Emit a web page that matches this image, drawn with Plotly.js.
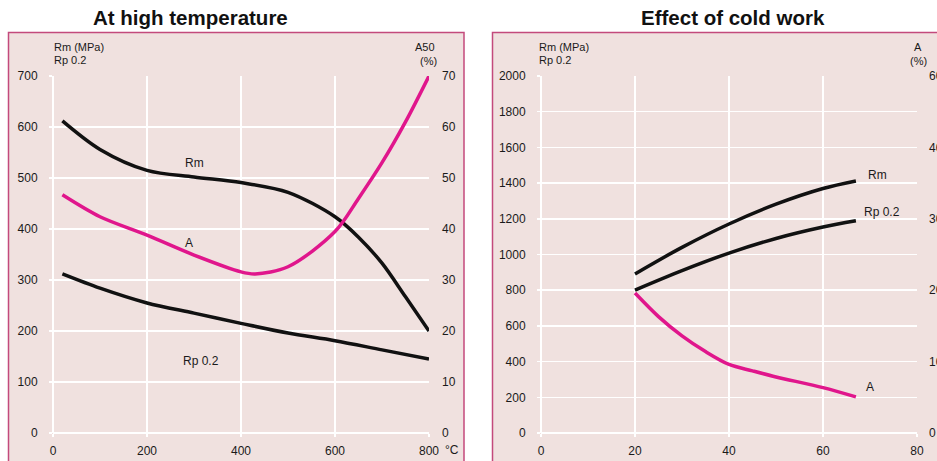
<!DOCTYPE html>
<html><head><meta charset="utf-8">
<script src="https://cdn.plot.ly/plotly-3.0.1.min.js"></script>
<style>html,body{margin:0;padding:0;background:#fff;}#chart{width:937px;height:461px;}</style>
</head><body><div id="chart"></div>
<script>
// ---- Left panel: At high temperature ----
const tempRm = [20, 100, 200, 300, 400, 500, 600, 650, 700, 750, 800];
const rmHot = [612, 556, 515, 502, 491, 472, 424, 384, 333, 267, 200];
const tempRp = [20, 100, 200, 300, 400, 500, 600, 700, 800];
const rpHot = [312, 284, 255, 235, 215, 196, 181, 163, 145];
const tempA = [20, 100, 200, 300, 400, 430, 500, 600, 650, 700, 750, 800];
const aHot = [46.7, 42.4, 38.8, 34.9, 31.6, 31.2, 32.6, 39.5, 46.0, 53.0, 61.0, 70];

// ---- Right panel: Effect of cold work ----
const cwStrength = [20, 30, 40, 50, 60, 67];
const rmCold = [891, 1040, 1171, 1282, 1370, 1412];
const rpCold = [801, 910, 1008, 1090, 1154, 1189];
const cwA = [20, 25, 30, 35, 40, 45, 50, 60, 67];
const aCold = [19.6, 16.3, 13.6, 11.4, 9.6, 8.7, 7.85, 6.35, 5.05];

const rightATickVals = [0, 10, 20, 30, 40, 50];
const rightATickText = ['0', '10', '20', '30', '40', '60'];

const W = 937, H = 461;
const px = x => x / W, py = y => 1 - y / H;

const BLACK = '#111111', PINK = '#e0168c', BG = '#f0e1df', BORDER = '#c34a7c';
const font = {family: 'Liberation Sans, Arial, sans-serif', size: 12, color: '#1a1a1a'};
const smallFont = {family: 'Liberation Sans, Arial, sans-serif', size: 11, color: '#1a1a1a'};
const titleFont = {family: 'Liberation Sans, Arial, sans-serif', size: 20.5, color: '#111'};

const ln = c => ({color: c, width: 3.5, shape: 'spline', smoothing: 0.9});
const traces = [
  {x: tempRm, y: rmHot, xaxis: 'x', yaxis: 'y', mode: 'lines', line: ln(BLACK)},
  {x: tempRp, y: rpHot, xaxis: 'x', yaxis: 'y', mode: 'lines', line: ln(BLACK)},
  {x: tempA, y: aHot, xaxis: 'x', yaxis: 'y2', mode: 'lines', line: ln(PINK)},
  {x: cwStrength, y: rmCold, xaxis: 'x2', yaxis: 'y3', mode: 'lines', line: ln(BLACK)},
  {x: cwStrength, y: rpCold, xaxis: 'x2', yaxis: 'y3', mode: 'lines', line: ln(BLACK)},
  {x: cwA, y: aCold, xaxis: 'x2', yaxis: 'y4', mode: 'lines', line: ln(PINK)}
];

const yDom = [py(433), py(76)];
const gridAx = {showgrid: true, gridcolor: '#ffffff', gridwidth: 1.5, zeroline: true, zerolinecolor: '#ffffff', zerolinewidth: 1.5,
  showline: false, ticks: 'outside', tickcolor: '#ffffff', ticklen: 3, tickwidth: 1.5, tickfont: font, fixedrange: true};

const layout = {
  width: W, height: H, margin: {l: 0, r: 0, t: 0, b: 0},
  paper_bgcolor: '#ffffff', plot_bgcolor: 'rgba(0,0,0,0)', showlegend: false,
  xaxis: Object.assign({}, gridAx, {domain: [px(53), px(429)], range: [0, 800], tickvals: [0, 200, 400, 600, 800], anchor: 'y', ticklabelstandoff: 4}),
  yaxis: Object.assign({}, gridAx, {domain: yDom, range: [0, 700], dtick: 100, anchor: 'x', ticklabelstandoff: 9}),
  yaxis2: {overlaying: 'y', side: 'right', anchor: 'x', range: [0, 70], dtick: 10, showgrid: false, zeroline: false,
    showline: false, ticks: '', tickfont: font, ticklabelstandoff: 12, fixedrange: true},
  xaxis2: Object.assign({}, gridAx, {domain: [px(541), px(917)], range: [0, 80], tickvals: [0, 20, 40, 60, 80], anchor: 'y3', ticklabelstandoff: 4}),
  yaxis3: Object.assign({}, gridAx, {domain: yDom, range: [0, 2000], dtick: 200, anchor: 'x2', ticklabelstandoff: 9}),
  yaxis4: {overlaying: 'y3', side: 'right', anchor: 'x2', range: [0, 50], tickvals: rightATickVals, ticktext: rightATickText,
    showgrid: false, zeroline: false, showline: false, ticks: '', tickfont: font, ticklabelstandoff: 11, fixedrange: true},
  shapes: [
    {type: 'rect', xref: 'paper', yref: 'paper', x0: px(8.5), x1: px(464), y0: py(475), y1: py(32.5),
      fillcolor: BG, line: {color: BORDER, width: 1.5}, layer: 'below'},
    {type: 'rect', xref: 'paper', yref: 'paper', x0: px(492.5), x1: px(960), y0: py(475), y1: py(32.5),
      fillcolor: BG, line: {color: BORDER, width: 1.5}, layer: 'below'}
  ],
  annotations: [
    {xref: 'paper', yref: 'paper', x: px(190), y: py(18), text: '<b>At high temperature</b>', showarrow: false,
      font: titleFont, xanchor: 'center', yanchor: 'middle'},
    {xref: 'paper', yref: 'paper', x: px(733), y: py(18), text: '<b>Effect of cold work</b>', showarrow: false,
      font: titleFont, xanchor: 'center', yanchor: 'middle'},
    {xref: 'paper', yref: 'paper', x: px(52), y: py(47.5), text: 'Rm (MPa)', showarrow: false, font: smallFont, xanchor: 'left', yanchor: 'middle'},
    {xref: 'paper', yref: 'paper', x: px(52), y: py(59.5), text: 'Rp 0.2', showarrow: false, font: smallFont, xanchor: 'left', yanchor: 'middle'},
    {xref: 'paper', yref: 'paper', x: px(425), y: py(47.5), text: 'A50', showarrow: false, font: smallFont, xanchor: 'center', yanchor: 'middle'},
    {xref: 'paper', yref: 'paper', x: px(428), y: py(60.5), text: '(%)', showarrow: false, font: smallFont, xanchor: 'center', yanchor: 'middle'},
    {xref: 'paper', yref: 'paper', x: px(443), y: py(450), text: '°C', showarrow: false, font: font, xanchor: 'left', yanchor: 'middle'},
    {xref: 'paper', yref: 'paper', x: px(537), y: py(47.5), text: 'Rm (MPa)', showarrow: false, font: smallFont, xanchor: 'left', yanchor: 'middle'},
    {xref: 'paper', yref: 'paper', x: px(537), y: py(59.5), text: 'Rp 0.2', showarrow: false, font: smallFont, xanchor: 'left', yanchor: 'middle'},
    {xref: 'paper', yref: 'paper', x: px(918), y: py(47.5), text: 'A', showarrow: false, font: smallFont, xanchor: 'center', yanchor: 'middle'},
    {xref: 'paper', yref: 'paper', x: px(918), y: py(60.5), text: '(%)', showarrow: false, font: smallFont, xanchor: 'center', yanchor: 'middle'},
    {xref: 'x', yref: 'y', x: 302, y: 529, text: 'Rm', showarrow: false, font: font},
    {xref: 'x', yref: 'y', x: 290, y: 373, text: 'A', showarrow: false, font: font},
    {xref: 'x', yref: 'y', x: 315, y: 141, text: 'Rp 0.2', showarrow: false, font: font},
    {xref: 'x2', yref: 'y3', x: 71.6, y: 1445, text: 'Rm', showarrow: false, font: font},
    {xref: 'x2', yref: 'y3', x: 72.6, y: 1238, text: 'Rp 0.2', showarrow: false, font: font},
    {xref: 'x2', yref: 'y3', x: 70.1, y: 258, text: 'A', showarrow: false, font: font}
  ]
};

Plotly.newPlot('chart', traces, layout, {displayModeBar: false, staticPlot: true});
</script></body></html>
